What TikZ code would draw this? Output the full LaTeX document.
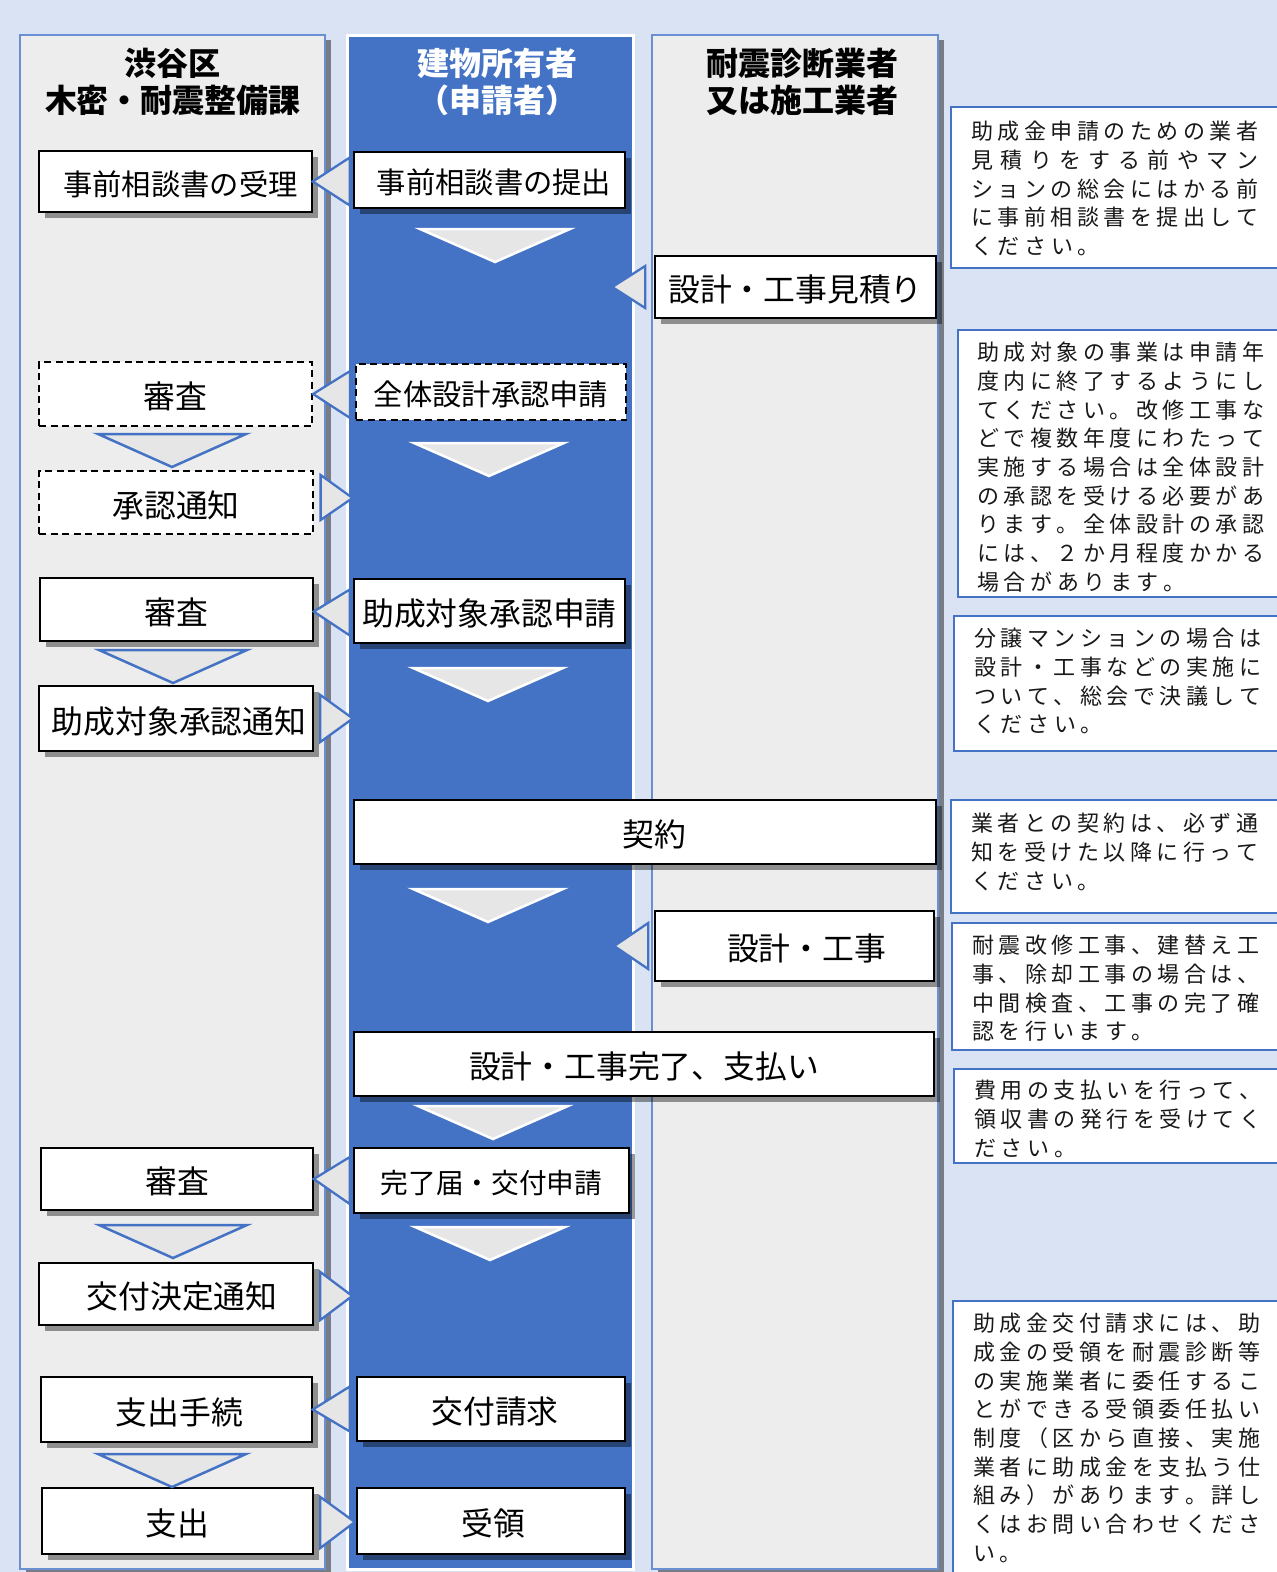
\documentclass[tikz,border=0pt]{standalone}
\usepackage{fontspec}
\newfontfamily\jp{Noto Sans CJK JP}
\usetikzlibrary{shadows,calc}
\definecolor{bg}{HTML}{DAE3F3}
\definecolor{colgray}{HTML}{EDEDED}
\definecolor{blu}{HTML}{4472C4}
\definecolor{colline}{HTML}{6A8FD3}
\definecolor{trigray}{HTML}{E7E6E6}
\newlength\nw \setlength\nw{287pt}
\newlength\np \setlength\np{26.6pt}
\def\sprA#1{#1\sprB}
\def\sprB#1{\ifx\relax#1\else\hfill#1\expandafter\sprB\fi}
\newcommand\sline[1]{\makebox[\nw][l]{\sprA#1\relax}}
\def\fpA#1{\ifx\relax#1\else\makebox[\np][l]{#1}\expandafter\fpA\fi}
\newcommand\fline[1]{\fpA#1\relax}
\newcommand\mkbox[7]{\node[#1, minimum width={(#5)-(#3)}, minimum height={(#6)-(#4)}] (#2) at ({((#3)+(#5))/2},{((#4)+(#6))/2}) {\raisebox{-2.5pt}[\height][\depth]{#7}};}
\newcommand\dtri[4]{\draw[#1] ({#2-#4},#3) -- ({#2+#4},#3) -- (#2,{#3+33}) -- cycle;}
\begin{document}
\begin{tikzpicture}[x=1pt,y=-1pt,
  box/.style={draw=black, line width=1.6pt, fill=white, inner sep=0pt, text=black,
    font=\jp\fontsize{31.8}{36}\selectfont,
    drop shadow={shadow xshift=6pt, shadow yshift=-6pt, opacity=0.4, fill=black}},
  dbox/.style={draw=black, line width=2.2pt, dash pattern=on 7pt off 4.5pt, fill=white,
    inner sep=0pt, text=black, font=\jp\fontsize{31.8}{36}\selectfont},
  sm/.style={font=\jp\fontsize{29.3}{34}\selectfont},
  col/.style={draw=colline, line width=1.5pt, fill=colgray,
    drop shadow={shadow xshift=6pt, shadow yshift=-5pt, opacity=0.45, fill=black}},
  midcol/.style={draw=white, line width=3pt, fill=blu},
  head/.style={align=center, inner sep=0pt, font=\jp\bfseries\fontsize{32}{37}\selectfont},
  wtri/.style={draw=white, line width=2.5pt, fill=trigray, line join=miter},
  btri/.style={draw=blu, line width=2.5pt, fill=trigray, line join=miter},
  sarr/.style={draw=blu, line width=2.3pt, fill=trigray, line join=miter},
  note/.style={draw=blu, line width=1.5pt, fill=white},
  notetxt/.style={anchor=north west, inner sep=0pt, align=left, text=black!90,
    font=\jp\fontsize{22}{28.7}\selectfont}
]
\useasboundingbox (0,0) rectangle (1277,1572);
\clip (0,0) rectangle (1277,1572);
\fill[bg] (0,0) rectangle (1277,1572);

% columns
\path[col] (20,35) rectangle (325,1569);
\path[midcol] (347,35) rectangle (633,1569);
\path[col] (652,35) rectangle (938,1569);

% headers
\node[head] (hL) at (173,82) {渋谷区\\木密・耐震整備課};
\node[head, text=white] (hM) at (497,82) {建物所有者\\（申請者）};
\node[head] (hR) at (802,82) {耐震診断業者\\又は施工業者};

% left column boxes
\mkbox{box,sm}{L1}{39}{151}{312}{212}{\hspace*{10pt}事前相談書の受理}
\mkbox{dbox}{L2}{39}{362}{312}{426}{審査}
\mkbox{dbox}{L3}{39}{471}{313}{534}{承認通知}
\mkbox{box}{L4}{40}{578}{313}{641}{審査}
\mkbox{box}{L5}{39}{686}{313}{751}{\hspace*{6pt}助成対象承認通知}
\mkbox{box}{L6}{41}{1148}{313}{1210}{審査}
\mkbox{box}{L7}{39}{1263}{313}{1325}{\hspace*{12pt}交付決定通知}
\mkbox{box}{L8}{41}{1377}{312}{1442}{\hspace*{6pt}支出手続}
\mkbox{box}{L9}{42}{1488}{313}{1554}{支出}

% middle column boxes
\mkbox{box,sm}{M1}{354}{152}{625}{208}{\hspace*{9pt}事前相談書の提出}
\mkbox{dbox,sm}{M2}{356}{364}{626}{420}{全体設計承認申請}
\mkbox{box}{M3}{354}{579}{625}{643}{助成対象承認申請}
\mkbox{box}{M4}{354}{800}{936}{864}{\hspace*{18pt}契約}
\mkbox{box}{M5}{354}{1032}{934}{1096}{設計・工事完了、支払い}
\mkbox{box,font=\jp\fontsize{27.7}{32}\selectfont}{M6}{354}{1148}{629}{1213}{完了届・交付申請}
\mkbox{box}{M7}{357}{1377}{625}{1441}{\hspace*{8pt}交付請求}
\mkbox{box}{M8}{357}{1488}{625}{1554}{\hspace*{4pt}受領}

% right column boxes
\mkbox{box}{R1}{655}{256}{936}{318}{設計・工事見積り}
\mkbox{box}{R2}{655}{911}{934}{981}{\hspace*{24pt}設計・工事}

% down triangles, middle column
\dtri{wtri}{495}{229}{75}
\dtri{wtri}{489}{443}{75}
\dtri{wtri}{488}{668}{75}
\dtri{wtri}{488}{889}{75}
\dtri{wtri}{493}{1106}{75}
\dtri{wtri}{490}{1227}{75}

% down triangles, left column
\dtri{btri}{172}{434}{74}
\dtri{btri}{173}{650}{74}
\dtri{btri}{173}{1225}{74}
\dtri{btri}{172}{1454}{74}

% side arrows middle -> left
\draw[sarr] (L1.east) -- ($(L1.east)+(37,-24)$) -- ($(L1.east)+(37,24)$) -- cycle;
\draw[sarr] (L2.east) -- ($(L2.east)+(37,-23)$) -- ($(L2.east)+(37,24)$) -- cycle;
\draw[sarr] ($(L4.east)+(0,2)$) -- ($(L4.east)+(36,-20)$) -- ($(L4.east)+(36,26)$) -- cycle;
\draw[sarr] (L6.east) -- ($(L6.east)+(36,-22)$) -- ($(L6.east)+(36,25)$) -- cycle;
\draw[sarr] (L8.east) -- ($(L8.east)+(37,-23)$) -- ($(L8.east)+(37,22)$) -- cycle;

% side arrows left -> middle
\draw[sarr] ($(L3.east)+(6.5,-27.5)$) -- ($(L3.east)+(38.5,-4.5)$) -- ($(L3.east)+(6.5,17.5)$) -- cycle;
\draw[sarr] ($(L5.east)+(6.5,-23.5)$) -- ($(L5.east)+(39,0)$) -- ($(L5.east)+(6.5,23.5)$) -- cycle;
\draw[sarr] ($(L7.east)+(6.5,-22)$) -- ($(L7.east)+(38.5,2)$) -- ($(L7.east)+(6.5,26)$) -- cycle;
\draw[sarr] ($(L9.east)+(6.5,-24)$) -- ($(L9.east)+(41,1)$) -- ($(L9.east)+(6.5,27)$) -- cycle;

% side arrows right -> middle
\draw[sarr] ($(R1.west)+(-9,-21)$) -- ($(R1.west)+(-42,0)$) -- ($(R1.west)+(-9,21)$) -- cycle;
\draw[sarr] ($(R2.west)+(-6,-23)$) -- ($(R2.west)+(-40,0)$) -- ($(R2.west)+(-6,23)$) -- cycle;

% notes
\path[note] (951,107) rectangle (1290,268);
\node[notetxt] (n1) at (971,121) {\sline{助成金申請のための業者}\\\sline{見積りをする前やマン}\\\sline{ションの総会にはかる前}\\\sline{に事前相談書を提出して}\\\fline{ください。}};

\path[note] (958,330) rectangle (1290,597);
\node[notetxt] (n2) at (977,342) {\sline{助成対象の事業は申請年}\\\sline{度内に終了するようにし}\\\sline{てください。改修工事な}\\\sline{どで複数年度にわたって}\\\sline{実施する場合は全体設計}\\\sline{の承認を受ける必要があ}\\\sline{ります。全体設計の承認}\\\sline{には、２か月程度かかる}\\\fline{場合があります。}};

\path[note] (954,616) rectangle (1290,751);
\node[notetxt] (n3) at (974,628) {\sline{分譲マンションの場合は}\\\sline{設計・工事などの実施に}\\\sline{ついて、総会で決議して}\\\fline{ください。}};

\path[note] (951,800) rectangle (1290,913);
\node[notetxt] (n4) at (971,813) {\sline{業者との契約は、必ず通}\\\sline{知を受けた以降に行って}\\\fline{ください。}};

\path[note] (952,923) rectangle (1290,1050);
\node[notetxt] (n5) at (972,935) {\sline{耐震改修工事、建替え工}\\\sline{事、除却工事の場合は、}\\\sline{中間検査、工事の完了確}\\\fline{認を行います。}};

\path[note] (954,1069) rectangle (1290,1163);
\node[notetxt] (n6) at (974,1080) {\sline{費用の支払いを行って、}\\\sline{領収書の発行を受けてく}\\\fline{ださい。}};

\path[note] (953,1301) rectangle (1290,1600);
\node[notetxt] (n7) at (973,1313) {\sline{助成金交付請求には、助}\\\sline{成金の受領を耐震診断等}\\\sline{の実施業者に委任するこ}\\\sline{とができる受領委任払い}\\\sline{制度（区から直接、実施}\\\sline{業者に助成金を支払う仕}\\\sline{組み）があります。詳し}\\\sline{くはお問い合わせくださ}\\\fline{い。}};
\end{tikzpicture}
\end{document}
